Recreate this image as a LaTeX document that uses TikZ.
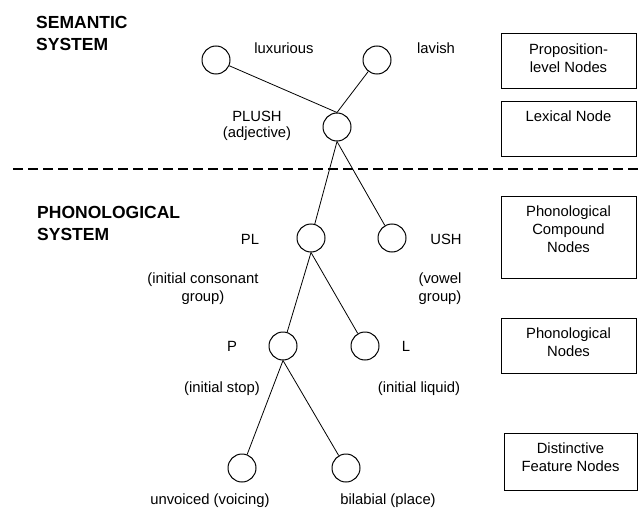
\documentclass[tikz,border=0pt]{standalone}
\usepackage{fontspec}
\setmainfont{Liberation Sans}
\begin{document}
\begin{tikzpicture}[x=1pt,y=-1pt,
  nd/.style={circle,draw,line width=1pt,minimum size=28pt,inner sep=0pt},
  lbl/.style={font=\fontsize{14.8}{18}\selectfont,inner sep=0pt,align=center},
  ttl/.style={font=\fontsize{17.5}{22}\selectfont\bfseries,inner sep=0pt,align=left,anchor=west},
  box/.style={draw,line width=0.8pt,inner sep=0pt},
  edge/.style={line width=0.8pt}]
\useasboundingbox (0,0) rectangle (642,508);

% titles
\node[ttl] (tsem) at (36,33.5) {SEMANTIC\\SYSTEM};
\node[ttl] (tpho) at (37,223.5) {PHONOLOGICAL\\SYSTEM};

% dashed separator
\coordinate (dl) at (13,169);
\coordinate (dr) at (642,169);
\draw[line width=1.8pt,dash pattern=on 10pt off 5pt] (dl) -- (dr);

% circles
\node[nd] (lux) at (216,60) {};
\node[nd] (lav) at (377,60) {};
\node[nd] (plush) at (337,127) {};
\node[nd] (pl) at (311,238) {};
\node[nd] (ush) at (392,238) {};
\node[nd] (p) at (283,346) {};
\node[nd] (l) at (365,346) {};
\node[nd] (unv) at (242,468) {};
\node[nd] (bil) at (346,468) {};

% edges
\draw[edge] (lux) -- (plush.north);
\draw[edge] (lav) -- (plush.north);
\draw[edge] (plush.south) -- (pl);
\draw[edge] (plush.south) -- (ush);
\draw[edge] (pl.south) -- (p);
\draw[edge] (pl.south) -- (l);
\draw[edge] (p.south) -- (unv);
\draw[edge] (p.south) -- (bil);

% node labels
\node[lbl] (tlux) at (284,48) {luxurious};
\node[lbl] (tlav) at (436,48) {lavish};
\node[lbl] (tplush) at (257,126) {PLUSH\\[-2pt](adjective)};
\node[lbl] (tpl) at (250,239) {PL};
\node[lbl] (tplg) at (203,288.5) {(initial consonant\\group)};
\node[lbl] (tush) at (446,239) {USH};
\node[lbl] (tushg) at (440,288.5) {(vowel\\group)};
\node[lbl] (tp) at (232,346.5) {P};
\node[lbl] (tl) at (406,346.5) {L};
\node[lbl] (tpg) at (222,389) {(initial stop)};
\node[lbl] (tlg) at (419,389) {(initial liquid)};
\node[lbl] (tunv) at (210,501) {unvoiced (voicing)};
\node[lbl] (tbil) at (388,501) {bilabial (place)};

% legend boxes
\node[box,minimum width=135pt,minimum height=55pt] (bprop) at (568.5,60.5) {};
\node[lbl] (tprop) at (568.5,58) {Proposition-\\level Nodes};
\node[box,minimum width=135pt,minimum height=55pt] (blex) at (568.5,128.5) {};
\node[lbl] (tlex) at (568.5,116.5) {Lexical Node};
\node[box,minimum width=135pt,minimum height=82pt] (bcomp) at (568.5,237) {};
\node[lbl] (tcomp) at (568.5,229) {Phonological\\Compound\\Nodes};
\node[box,minimum width=135pt,minimum height=55pt] (bphon) at (568.5,345.5) {};
\node[lbl] (tphon) at (568.5,342) {Phonological\\Nodes};
\node[box,minimum width=133pt,minimum height=57pt] (bdist) at (570.5,461.5) {};
\node[lbl] (tdist) at (570.5,457) {Distinctive\\Feature Nodes};
\end{tikzpicture}
\end{document}
